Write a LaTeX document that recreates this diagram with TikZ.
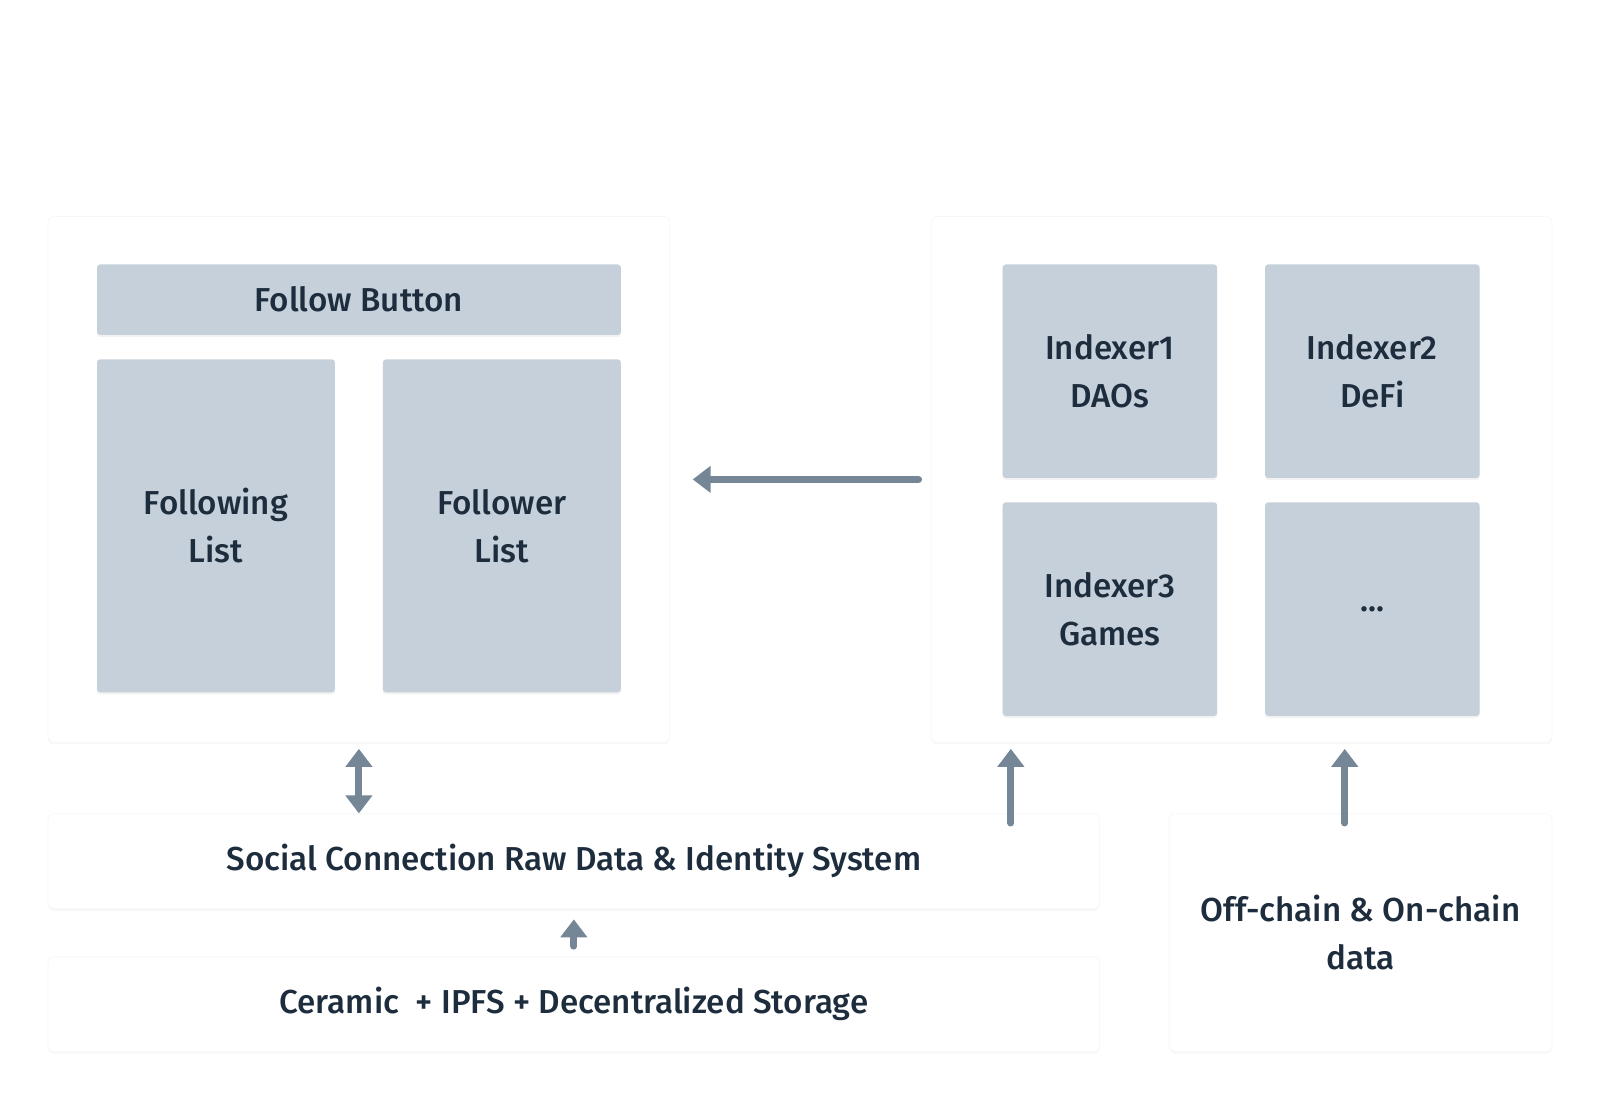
\documentclass[tikz,border=0pt]{standalone}
\usepackage{fontspec}
\setmainfont{Fira Sans Medium}
\usetikzlibrary{positioning,shadows,calc}
\usetikzlibrary{arrows.meta}

\definecolor{cardfill}{HTML}{C5D0DA}
\definecolor{arrowgray}{HTML}{758696}
\definecolor{inktext}{HTML}{1E2D3D}

\pgfmathsetmacro{\px}{0.5107} % one reference pixel in pt

\tikzset{
  panel/.style={draw=black!3, fill=white, rounded corners=3pt, inner sep=0pt,
    drop shadow={opacity=0.06, shadow xshift=0pt, shadow yshift=-1pt}},
  card/.style={fill=cardfill, rounded corners=1.5pt, align=center, inner sep=0pt,
    text=inktext, font=\fontsize{16.6}{24}\selectfont,
    drop shadow={opacity=0.10, shadow xshift=0pt, shadow yshift=-1pt}},
  layer/.style={panel, align=center, text=inktext, font=\fontsize{16.6}{24}\selectfont},
  title/.style={text=white, font=\fontsize{18}{22}\selectfont\bfseries},
  flow/.style={arrowgray, line width=3.5pt, line cap=round, -{Triangle[length=9pt, width=13pt]}},
  flowboth/.style={arrowgray, line width=3.5pt, {Triangle[length=9pt, width=13pt]}-{Triangle[length=9pt, width=13pt]}}
}

\begin{document}
\begin{tikzpicture}[x=\px pt, y=-\px pt]
\useasboundingbox (0,0) rectangle (1567,1077);

% Panels
\node[panel, minimum width=609*\px pt, minimum height=515*\px pt] (social graph) at (351.5,469.5) {};
\node[panel, minimum width=608*\px pt, minimum height=515*\px pt] (indexing) at (1216,469.5) {};
\node[title] (social title) at (353,170) {Social Graph Module};
\node[title] (indexing title) at (1218,170) {Indexing};

% Social graph cards
\node[card, minimum width=513*\px pt, minimum height=69*\px pt] (follow) at (351.5,293.5) {Follow Button};
\node[card, minimum width=233*\px pt, minimum height=326*\px pt] (following) at (211.5,515) {Following\\List};
\node[card, minimum width=233*\px pt, minimum height=326*\px pt] (follower) at (491.5,515) {Follower\\List};

% Indexer cards
\foreach \name/\x/\y/\txt in {idx1/1087/363.5/{Indexer1\\DAOs},
                              idx2/1344/363.5/{Indexer2\\DeFi},
                              idx3/1087/596.5/{Indexer3\\Games},
                              idxmore/1344/596.5/{...}}
  \node[card, minimum width=210*\px pt, minimum height=209*\px pt] (\name) at (\x,\y) {\txt};

% Data layers
\node[layer, minimum width=1030*\px pt, minimum height=93*\px pt] (raw data) at (562,843.5) {Social Connection Raw Data \& Identity System};
\node[layer, minimum width=1030*\px pt, minimum height=93*\px pt] (storage) at (562,983.5) {Ceramic~ + IPFS + Decentralized Storage};
\node[layer, minimum width=375*\px pt, minimum height=233*\px pt] (chain data) at (1332.5,913.5) {Off-chain \& On-chain\\data};

% Recommendation arrow
\coordinate (rec start) at ([xshift=-12*\px pt]indexing.west);
\coordinate (rec end) at ([xshift=22*\px pt]social graph.east |- rec start);
\node[text=white, align=center, font=\fontsize{14.5}{18.5}\selectfont] (rec label)
  at ($(rec start)!0.5!(rec end)$) {Recommendation\\Curation};
\draw[flow] (rec start) -- (rec end);

% Connectors
\coordinate (up1 tail) at (990,806);
\coordinate (up2 tail) at (1317,806);
\draw[flowboth] ([yshift=-6*\px pt]social graph.south) -- (social graph.south |- raw data.north);
\draw[flow] (up1 tail) -- ([yshift=-6*\px pt]up1 tail |- indexing.south);
\draw[flow] (up2 tail) -- ([yshift=-6*\px pt]up2 tail |- indexing.south);
\draw[flow] ([yshift=10*\px pt]storage.north) -- ([yshift=-10*\px pt]raw data.south);

\end{tikzpicture}
\end{document}
